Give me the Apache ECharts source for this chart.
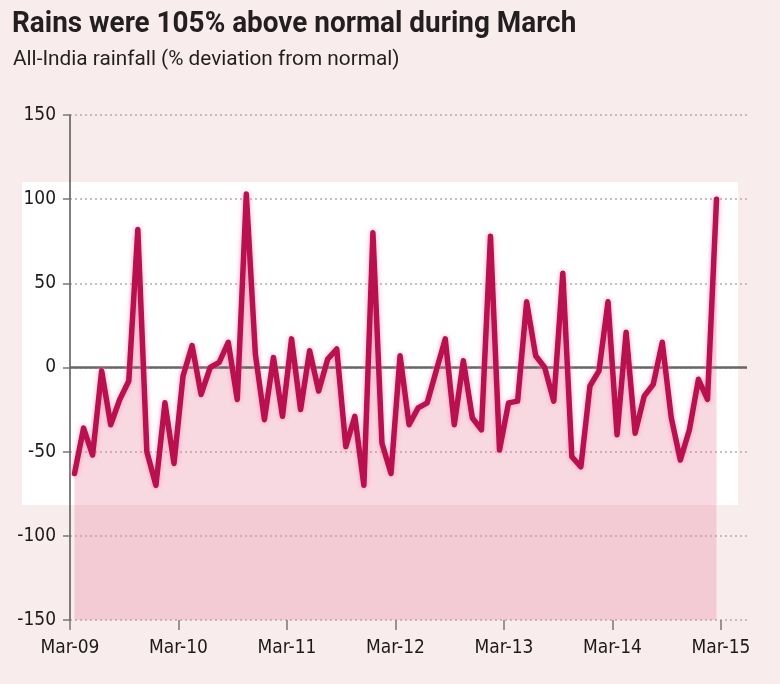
<!DOCTYPE html>
<html>
<head>
    <meta charset="utf-8">
    <title>All-India rainfall</title>
    <script src="https://cdn.jsdelivr.net/npm/echarts@6/dist/echarts.min.js"></script>
    <style type="text/css">
        html, body { margin: 0; padding: 0; background: #f8ecec; }
        #main { width: 780px; height: 684px; }
    </style>
</head>
<body>
<div id="main"></div>
<script type="text/javascript">
    // monthly % deviation from normal, Mar-09 .. Feb-15 (72 months)
    var rainDeviation = [
        -63, -36, -52, -2, -34, -19, -8, 82, -50, -70, -21, -57,
        -5, 13, -16, 0, 3, 15, -19, 103, 8, -31, 6, -29,
        17, -25, 10, -14, 5, 11, -47, -29, -70, 80, -45, -63,
        7, -34, -24, -21, -2, 17, -34, 4, -30, -37, 78, -49,
        -21, -20, 39, 7, 0, -20, 56, -53, -59, -11, -2, 39,
        -40, 21, -39, -17, -10, 15, -30, -55, -37, -7, -19, 100
    ];
    var yearLabels = ['Mar-09', 'Mar-10', 'Mar-11', 'Mar-12', 'Mar-13', 'Mar-14', 'Mar-15'];
    var yTicks = [-150, -100, -50, 0, 50, 100, 150];

    var axisFont = "'Liberation Sans Narrow', 'DejaVu Sans Condensed', 'Roboto Condensed', Roboto, sans-serif";

    // each month sits in the middle of its slot
    var points = rainDeviation.map(function (v, i) { return [i + 0.5, v]; });

    var chart = echarts.init(document.getElementById('main'));
    chart.setOption({
        backgroundColor: '#f8ecec',
        animation: false,
        graphic: [
            {
                type: 'rect', z: -10,
                shape: {x: 22, y: 182, width: 716, height: 323},
                style: {fill: '#ffffff'}
            },
            {
                type: 'text', left: 12, top: 9, z: 10, scaleX: 0.93,
                style: {text: 'Rains were 105% above normal during March', font: 'bold 30px Roboto', fill: '#231f20'}
            },
            {
                type: 'text', left: 13, top: 49, z: 10, scaleX: 0.99,
                style: {text: 'All-India rainfall (% deviation from normal)', font: '21px Roboto', fill: '#231f20'}
            }
        ],
        grid: [
            {left: 70, right: 33, top: 115, bottom: 64},
            {left: 70, right: 59, top: 115, bottom: 64}
        ],
        xAxis: [
            {
                type: 'value', gridIndex: 0, min: 0, max: 74.87,
                axisLine: {show: false, onZero: false}, axisTick: {show: false},
                axisLabel: {show: false}, splitLine: {show: false}
            },
            {
                type: 'value', gridIndex: 1, min: 0, max: 72, interval: 12,
                axisLine: {show: false, onZero: false},
                axisTick: {show: true, length: 10, lineStyle: {color: '#777', width: 1.5}},
                axisLabel: {
                    margin: 19, fontSize: 19, fontWeight: 500, color: '#1e1a1b', fontFamily: axisFont,
                    formatter: function (v) { return yearLabels[v / 12] || ''; }
                },
                splitLine: {show: false}
            }
        ],
        yAxis: [
            {
                type: 'value', gridIndex: 0, min: yTicks[0], max: yTicks[yTicks.length - 1], interval: 50,
                axisLine: {show: true, lineStyle: {color: '#555', width: 1.5}},
                axisTick: {show: true, length: 7, lineStyle: {color: '#777', width: 1.5}},
                axisLabel: {margin: 14, fontSize: 19, fontWeight: 500, color: '#1e1a1b', fontFamily: axisFont},
                splitLine: {show: true, lineStyle: {color: '#b8aaae', width: 1.5, type: [2, 3]}}
            },
            {
                type: 'value', gridIndex: 1, min: -150, max: 150, show: false
            }
        ],
        series: [
            {
                // pink fill under the line, down to the bottom of the axis
                type: 'line', z: 1,
                xAxisIndex: 0, yAxisIndex: 0,
                data: points,
                symbol: 'none',
                lineStyle: {width: 0},
                areaStyle: {color: 'rgba(232,125,155,0.42)', origin: 'start'},
                markLine: {
                    z: 2, silent: true, symbol: ['none', 'none'],
                    label: {show: false},
                    lineStyle: {color: '#666', width: 2.5, type: 'solid'},
                    data: [{yAxis: 0}]
                }
            },
            {
                type: 'line', z: 3,
                xAxisIndex: 0, yAxisIndex: 0,
                data: points,
                symbol: 'none',
                lineStyle: {
                    color: '#b9114f', width: 5.5, join: 'round', cap: 'round',
                    shadowColor: 'rgba(255,130,170,0.7)', shadowBlur: 5
                }
            }
        ]
    });
</script>
</body>
</html>
